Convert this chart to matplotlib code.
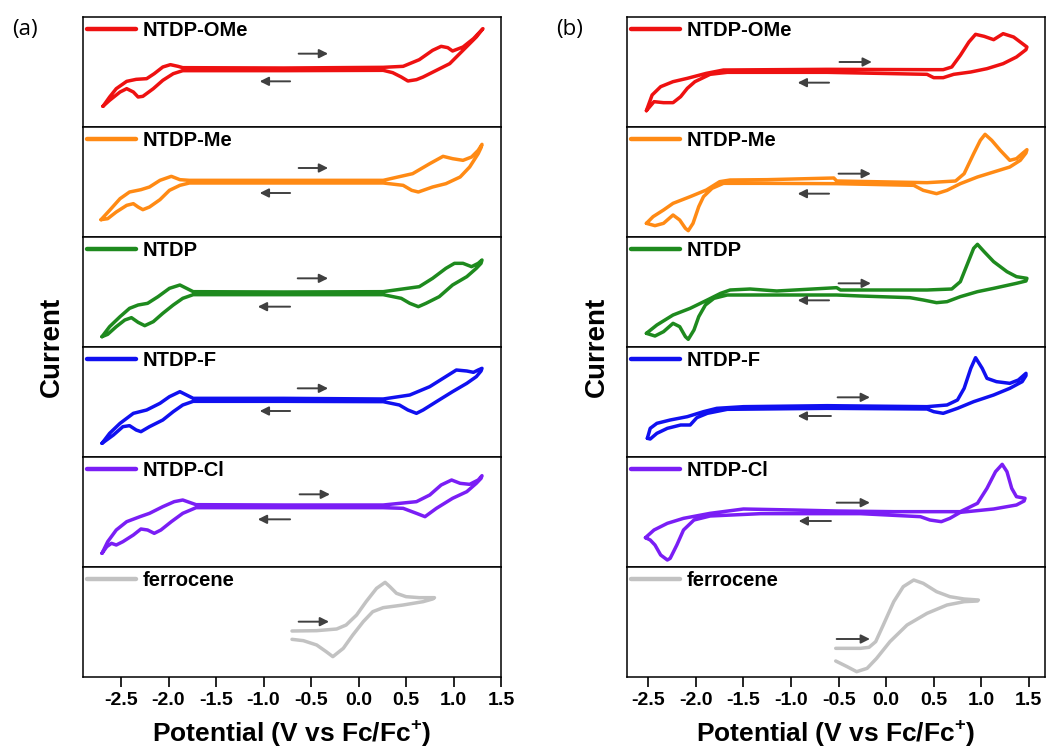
import matplotlib
matplotlib.use("Agg")
import matplotlib.pyplot as plt
from matplotlib import rcParams

rcParams['font.family'] = ['Liberation Sans', 'DejaVu Sans']
rcParams['mathtext.fontset'] = 'custom'
rcParams['mathtext.rm'] = 'Liberation Sans'
rcParams['mathtext.bf'] = 'Liberation Sans:bold'

# ---------------- data (potential in V vs Fc/Fc+, current in a.u.) ----------------
names = ["NTDP-OMe", "NTDP-Me", "NTDP", "NTDP-F", "NTDP-Cl", "ferrocene"]
colors = ["#EE1111", "#FF8A14", "#1E8A1E", "#1010F0", "#7A1EF5", "#C2C2C2"]
xticks = [-2.5, -2.0, -1.5, -1.0, -0.5, 0.0, 0.5, 1.0, 1.5]

# panel (a)
a_ome_x = [-2.69, -2.62, -2.55, -2.44, -2.34, -2.23, -2.15, -2.06, -1.98, -1.90, -1.85, -0.79, 0.26, 0.47, 0.64, 0.78, 0.87, 0.94, 0.99, 1.10, 1.21, 1.31,
           1.29, 1.24, 1.10, 0.96, 0.82, 0.68, 0.61, 0.52, 0.45, 0.36, 0.26, -0.79, -1.85, -1.95, -2.06, -2.16, -2.27, -2.32, -2.37, -2.44, -2.51, -2.62, -2.69]
a_ome_y = [62, 90, 115, 137, 143, 145, 160, 180, 187, 182, 178, 177, 179, 182, 202, 230, 242, 238, 228, 240, 265, 295,
           288, 270, 230, 190, 170, 150, 142, 138, 150, 163, 170, 169, 169, 160, 140, 115, 92, 90, 105, 115, 105, 80, 62]

a_me_x = [-2.71, -2.62, -2.51, -2.41, -2.29, -2.20, -2.09, -1.97, -1.88, -1.78, -0.79, 0.26, 0.57, 0.75, 0.89, 0.99, 1.10, 1.19, 1.26, 1.30,
          1.29, 1.26, 1.17, 1.07, 0.92, 0.78, 0.63, 0.56, 0.47, 0.26, -0.79, -1.78, -1.88, -1.99, -2.09, -2.20, -2.27, -2.32, -2.37, -2.44, -2.55, -2.64, -2.71]
a_me_y = [52, 80, 115, 135, 142, 150, 170, 182, 172, 170, 170, 170, 190, 220, 242, 235, 230, 240, 260, 278,
          268, 250, 210, 180, 160, 150, 135, 140, 155, 162, 162, 162, 155, 140, 112, 90, 82, 90, 100, 95, 75, 55, 52]

a_h_x = [-2.70, -2.62, -2.51, -2.41, -2.32, -2.22, -2.11, -1.99, -1.88, -1.81, -1.74, -0.79, 0.26, 0.64, 0.78, 0.92, 1.01, 1.10, 1.19, 1.26, 1.30,
         1.29, 1.24, 1.14, 0.99, 0.85, 0.71, 0.63, 0.54, 0.45, 0.26, -0.79, -1.74, -1.85, -1.95, -2.06, -2.16, -2.25, -2.32, -2.39, -2.46, -2.55, -2.64, -2.70]
a_h_y = [31, 61, 91, 116, 126, 131, 151, 176, 186, 176, 166, 165, 166, 181, 206, 236, 251, 251, 241, 251, 261,
         251, 236, 211, 186, 151, 131, 121, 131, 146, 157, 157, 157, 146, 126, 101, 76, 64, 74, 88, 81, 61, 38, 31]

a_f_x = [-2.70, -2.62, -2.51, -2.37, -2.23, -2.09, -1.99, -1.88, -1.81, -1.74, -0.79, 0.26, 0.54, 0.75, 0.89, 1.03, 1.14, 1.21, 1.26, 1.30,
         1.29, 1.24, 1.14, 0.99, 0.82, 0.68, 0.61, 0.52, 0.43, 0.26, -0.79, -1.74, -1.85, -1.95, -2.06, -2.20, -2.29, -2.34, -2.41, -2.48, -2.58, -2.70]
a_f_y = [41, 71, 101, 131, 141, 161, 181, 196, 186, 176, 176, 174, 186, 211, 236, 261, 258, 254, 261, 266,
         258, 241, 221, 196, 166, 141, 131, 141, 156, 166, 167, 167, 156, 136, 111, 91, 76, 81, 94, 91, 66, 41]

a_cl_x = [-2.70, -2.64, -2.55, -2.44, -2.30, -2.20, -2.06, -1.94, -1.85, -1.78, -1.71, -0.79, 0.26, 0.61, 0.75, 0.87, 0.98, 1.07, 1.17, 1.26, 1.30,
          1.29, 1.24, 1.14, 0.99, 0.82, 0.70, 0.61, 0.47, 0.26, -0.79, -1.71, -1.85, -1.97, -2.08, -2.15, -2.22, -2.29, -2.37, -2.48, -2.55, -2.60, -2.65, -2.70]
a_cl_y = [41, 76, 111, 136, 151, 161, 181, 196, 201, 194, 187, 186, 186, 196, 216, 246, 261, 251, 248, 261, 274,
          266, 251, 226, 206, 176, 151, 161, 176, 178, 178, 178, 161, 136, 111, 101, 111, 114, 96, 76, 66, 71, 61, 41]

a_fc_x = [-0.70, -0.44, -0.23, -0.13, -0.02, 0.08, 0.19, 0.28, 0.33, 0.40, 0.50, 0.64, 0.80,
          0.78, 0.68, 0.47, 0.26, 0.15, 0.05, -0.06, -0.16, -0.27, -0.34, -0.44, -0.58, -0.70]
a_fc_y = [138, 139, 144, 156, 186, 226, 266, 284, 271, 251, 241, 238, 238,
          234, 226, 216, 208, 196, 166, 126, 86, 61, 76, 96, 109, 113]

# panel (b)
b_ome_x = [-2.52, -2.46, -2.37, -2.24, -2.09, -1.89, -1.71, -0.62, 0.43, 0.60, 0.69, 0.78, 0.87, 0.94, 1.03, 1.13, 1.23, 1.34, 1.48,
           1.47, 1.37, 1.23, 1.06, 0.89, 0.71, 0.60, 0.50, 0.43, -0.62, -1.67, -1.85, -2.01, -2.09, -2.16, -2.24, -2.34, -2.44, -2.52]
b_ome_y = [49, 96, 121, 136, 146, 161, 171, 173, 172, 172, 180, 215, 255, 278, 272, 262, 280, 270, 240,
           232, 210, 190, 175, 165, 158, 148, 148, 158, 164, 164, 158, 136, 116, 91, 73, 73, 76, 49]

b_me_x = [-2.52, -2.45, -2.34, -2.24, -2.06, -1.89, -1.75, -1.64, -1.25, -0.55, -0.52, 0.43, 0.73, 0.82, 0.92, 0.99, 1.04, 1.11, 1.20, 1.30, 1.37, 1.43, 1.48,
          1.47, 1.41, 1.30, 1.13, 0.96, 0.78, 0.64, 0.53, 0.39, 0.29, -0.52, -1.32, -1.54, -1.71, -1.83, -1.92, -1.97, -2.03, -2.08, -2.11, -2.17, -2.24, -2.34, -2.43, -2.52]
b_me_y = [41, 61, 81, 101, 121, 141, 166, 171, 172, 177, 168, 163, 168, 190, 250, 290, 308, 290, 260, 230, 235, 250, 262,
          252, 230, 210, 195, 180, 160, 140, 130, 140, 155, 160, 161, 161, 161, 146, 121, 91, 41, 19, 26, 51, 66, 41, 34, 41]

b_h_x = [-2.52, -2.41, -2.24, -2.06, -1.88, -1.74, -1.64, -1.43, -1.15, -0.52, -0.48, 0.43, 0.69, 0.78, 0.85, 0.92, 0.96, 1.03, 1.13, 1.27, 1.37, 1.48,
         1.47, 1.37, 1.13, 0.96, 0.78, 0.64, 0.53, 0.39, 0.25, -0.27, -0.52, -1.32, -1.50, -1.67, -1.81, -1.90, -1.97, -2.02, -2.08, -2.11, -2.17, -2.24, -2.34, -2.43, -2.52]
b_h_y = [41, 66, 96, 116, 141, 161, 171, 174, 168, 178, 171, 171, 174, 196, 246, 296, 308, 286, 256, 226, 211, 206,
         198, 191, 176, 166, 151, 136, 133, 141, 148, 153, 156, 156, 156, 156, 146, 126, 91, 51, 23, 31, 61, 71, 46, 33, 41]

b_f_x = [-2.51, -2.48, -2.41, -2.27, -2.09, -1.92, -1.78, -1.50, -0.62, 0.43, 0.64, 0.75, 0.82, 0.89, 0.94, 1.01, 1.06, 1.16, 1.30, 1.39, 1.47,
         1.47, 1.43, 1.30, 1.13, 0.92, 0.75, 0.60, 0.50, 0.43, -0.62, -1.67, -1.88, -1.99, -2.06, -2.16, -2.30, -2.41, -2.48, -2.51]
b_f_y = [56, 86, 101, 111, 121, 136, 146, 151, 154, 151, 156, 171, 206, 266, 298, 266, 236, 226, 221, 231, 251,
         244, 226, 206, 186, 166, 146, 131, 136, 144, 146, 143, 131, 118, 96, 96, 86, 71, 54, 56]

b_cl_x = [-2.53, -2.44, -2.30, -2.13, -1.85, -1.50, -0.97, -0.52, 0.08, 0.78, 0.96, 1.06, 1.15, 1.22, 1.27, 1.32, 1.37, 1.46,
          1.45, 1.37, 1.13, 0.78, 0.67, 0.58, 0.46, 0.36, -0.27, -1.32, -1.85, -2.02, -2.13, -2.20, -2.27, -2.30, -2.37, -2.43, -2.48, -2.53]
b_cl_y = [88, 111, 131, 146, 161, 174, 171, 168, 166, 166, 191, 236, 286, 308, 286, 236, 211, 206,
          198, 186, 174, 164, 146, 136, 141, 151, 160, 160, 153, 141, 111, 66, 26, 21, 36, 66, 81, 88]

b_fc_x = [-0.53, -0.27, -0.18, -0.11, -0.03, 0.08, 0.18, 0.29, 0.39, 0.53, 0.67, 0.82, 0.97,
          0.96, 0.82, 0.64, 0.43, 0.22, 0.04, -0.10, -0.20, -0.31, -0.41, -0.53]
b_fc_y = [86, 86, 89, 106, 156, 226, 271, 291, 281, 256, 241, 234, 231,
          228, 226, 216, 191, 156, 106, 56, 26, 16, 31, 48]

# scan-direction arrows: (x_start, x_end, y) for forward / reverse
a_fwd = [(-0.63, -0.32, 220), (-0.63, -0.32, 207), (-0.64, -0.32, 206), (-0.64, -0.32, 206), (-0.62, -0.30, 218), (-0.63, -0.31, 166)]
a_rev = [(-0.72, -1.04, 137), (-0.72, -1.04, 132), (-0.72, -1.06, 121), (-0.72, -1.04, 138), (-0.72, -1.06, 143), None]
b_fwd = [(-0.49, -0.15, 195), (-0.50, -0.16, 190), (-0.50, -0.16, 191), (-0.51, -0.17, 179), (-0.52, -0.17, 193), (-0.52, -0.17, 114)]
b_rev = [(-0.60, -0.93, 133), (-0.60, -0.93, 130), (-0.60, -0.93, 140), (-0.58, -0.93, 123), (-0.58, -0.92, 138), None]

panel_a = [(a_ome_x, a_ome_y), (a_me_x, a_me_y), (a_h_x, a_h_y), (a_f_x, a_f_y), (a_cl_x, a_cl_y), (a_fc_x, a_fc_y)]
panel_b = [(b_ome_x, b_ome_y), (b_me_x, b_me_y), (b_h_x, b_h_y), (b_f_x, b_f_y), (b_cl_x, b_cl_y), (b_fc_x, b_fc_y)]

# ---------------- figure ----------------
W, H = 1048, 751
fig = plt.figure(figsize=(W / 100, H / 100), dpi=100)

top_px, sub_h = 17, 110
panels = [
    dict(left=83, right=501, xlim=(-2.9, 1.5), data=panel_a, fwd=a_fwd, rev=a_rev, tag="(a)", tag_x=25, ylab_x=52),
    dict(left=627, right=1045, xlim=(-2.724, 1.67), data=panel_b, fwd=b_fwd, rev=b_rev, tag="(b)", tag_x=570, ylab_x=597),
]

arrow_kw = dict(arrowstyle='-|>', color='#404040', lw=1.4, mutation_scale=13, shrinkA=0, shrinkB=0)

for p in panels:
    for i in range(6):
        y0 = H - (top_px + (i + 1) * sub_h)
        ax = fig.add_axes([p['left'] / W, y0 / H, (p['right'] - p['left']) / W, sub_h / H])
        xs, ys = p['data'][i]
        ax.plot(xs, ys, color=colors[i], lw=2.5, solid_joinstyle='round', solid_capstyle='round', label=names[i])
        ax.set_xlim(*p['xlim'])
        ax.set_ylim(0, 330)
        ax.set_yticks([])
        for s in ax.spines.values():
            s.set_linewidth(1.1)
        f = p['fwd'][i]
        ax.annotate('', xy=(f[1], f[2]), xytext=(f[0], f[2]), arrowprops=arrow_kw)
        r = p['rev'][i]
        if r is not None:
            ax.annotate('', xy=(r[1], r[2]), xytext=(r[0], r[2]), arrowprops=arrow_kw)
        leg = ax.legend(loc='upper left', frameon=False, handlelength=2.45, handletextpad=0.3,
                        borderaxespad=0.0, borderpad=0.2,
                        prop=dict(family='Liberation Sans', weight='bold', size=14.5))
        for ln in leg.get_lines():
            ln.set_linewidth(3.2)
        if i < 5:
            ax.set_xticks([])
        else:
            ax.set_xticks(xticks)
            ax.set_xticklabels([f"{t:.1f}" for t in xticks], fontsize=14, fontweight='bold')
            ax.tick_params(axis='x', direction='out', length=7, width=1.2, pad=4)
            ax.set_xlabel(r'Potential (V vs Fc/Fc$^{\mathbf{+}}$)', fontsize=19, fontweight='bold', labelpad=6)
    fig.text(p['ylab_x'] / W, 1 - 347 / H, 'Current', rotation=90, fontsize=20, fontweight='bold',
             ha='center', va='center')
    fig.text(p['tag_x'] / W, 1 - 30 / H, p['tag'], fontsize=16, ha='center', va='center', family='Open Sans')

fig.savefig('out.png', dpi=100)
